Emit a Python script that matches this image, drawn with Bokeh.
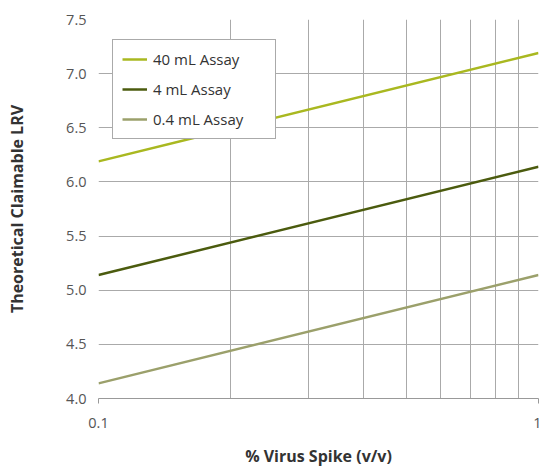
from bokeh.plotting import figure
from bokeh.models import FixedTicker, Legend, LegendItem, CustomJSTickFormatter
from bokeh.embed import file_html
from bokeh.resources import INLINE

# Data
spike = [0.1, 1.0]
series_names = ["40 mL Assay", "4 mL Assay", "0.4 mL Assay"]
lrv_40 = [6.19, 7.19]
lrv_4 = [5.14, 6.14]
lrv_04 = [4.14, 5.14]
colors = ["#a9b820", "#4b5b0e", "#9ba06b"]
y_ticks = [4.0, 4.5, 5.0, 5.5, 6.0, 6.5, 7.0, 7.5]
x_major = [0.1, 1.0]
x_grid = [0.2, 0.3, 0.4, 0.5, 0.6, 0.7, 0.8, 0.9]

FONT = "Open Sans"

p = figure(width=541, height=470, x_axis_type="log", x_range=(0.1, 1.0), y_range=(4.0, 7.5),
           output_backend="svg", toolbar_location=None,
           min_border_left=98, min_border_right=3, min_border_top=19, min_border_bottom=72)
p.outline_line_color = None
p.background_fill_color = "white"

renderers = []
for vals, c in zip([lrv_40, lrv_4, lrv_04], colors):
    r = p.line(spike, vals, line_color=c, line_width=2.5)
    renderers.append(r)

# grids
p.xgrid.ticker = FixedTicker(ticks=x_grid)
p.xgrid.grid_line_color = "#aaaaaa"
p.xgrid.grid_line_width = 1
p.ygrid.ticker = FixedTicker(ticks=y_ticks)
p.ygrid.grid_line_color = "#aaaaaa"
p.ygrid.grid_line_width = 1

# x axis
xa = p.xaxis[0]
xa.ticker = FixedTicker(ticks=x_major, minor_ticks=[])
xa.formatter = CustomJSTickFormatter(code="return tick >= 1 ? '1' : tick.toFixed(1);")
xa.axis_line_color = "#999999"
xa.major_tick_line_color = "#999999"
xa.major_tick_out = 5
xa.major_tick_in = 0
xa.minor_tick_line_color = None
xa.major_label_text_font = FONT
xa.major_label_text_font_size = "14.5px"
xa.major_label_text_color = "#555555"
xa.major_label_standoff = 14
xa.axis_label = "% Virus Spike (v/v)"
xa.axis_label_text_font = FONT
xa.axis_label_text_font_size = "16px"
xa.axis_label_text_font_style = "bold"
xa.axis_label_text_color = "#333333"
xa.axis_label_standoff = 14

# y axis
ya = p.yaxis[0]
ya.ticker = FixedTicker(ticks=y_ticks, minor_ticks=[])
ya.formatter = CustomJSTickFormatter(code="return tick.toFixed(1);")
ya.axis_line_color = None
ya.major_tick_line_color = None
ya.minor_tick_line_color = None
ya.major_label_text_font = FONT
ya.major_label_text_font_size = "14.5px"
ya.major_label_text_color = "#555555"
ya.major_label_standoff = 6
ya.axis_label = "Theoretical Claimable LRV"
ya.axis_label_text_font = FONT
ya.axis_label_text_font_size = "16px"
ya.axis_label_text_font_style = "bold"
ya.axis_label_text_color = "#333333"
ya.axis_label_standoff = 35

legend = Legend(items=[LegendItem(label=n, renderers=[r]) for n, r in zip(series_names, renderers)],
                location=(14, 259))
legend.border_line_color = "#555555"
legend.border_line_width = 1
legend.background_fill_color = "white"
legend.background_fill_alpha = 1
legend.label_text_font = FONT
legend.label_text_font_size = "15px"
legend.label_text_color = "#333333"
legend.glyph_width = 25
legend.glyph_height = 20
legend.label_height = 20
legend.label_width = 113
legend.label_standoff = 6
legend.spacing = 10
legend.padding = 9
legend.margin = 0
p.add_layout(legend, "center")

open("out.html", "w").write(file_html(p, INLINE))
